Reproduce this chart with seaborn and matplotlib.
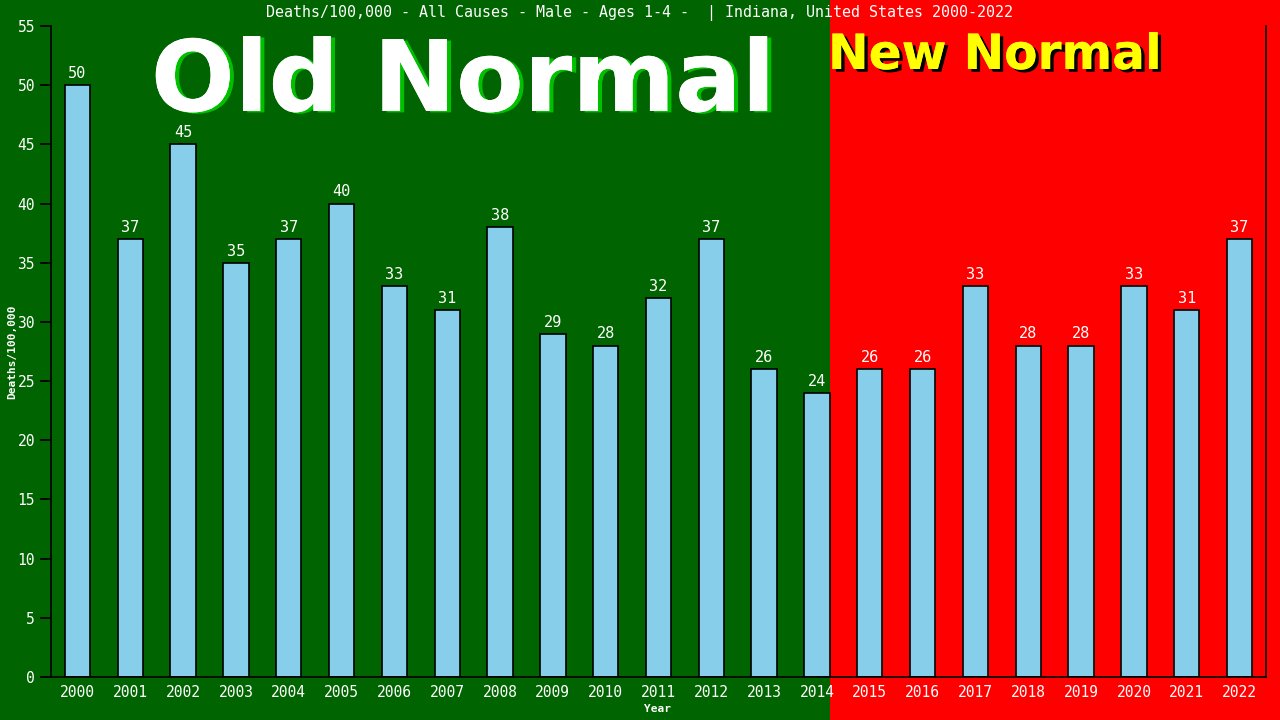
import matplotlib
matplotlib.use("Agg")
import matplotlib.pyplot as plt
import seaborn as sns
import pandas as pd
from matplotlib.patches import Rectangle
import matplotlib.patheffects as pe

years = [str(y) for y in range(2000, 2023)]
deaths = [50, 37, 45, 35, 37, 40, 33, 31, 38, 29, 28, 32, 37, 26, 24, 26, 26, 33, 28, 28, 33, 31, 37]
title = "Deaths/100,000 - All Causes - Male - Ages 1-4 -  | Indiana, United States 2000-2022"
yticks = list(range(0, 56, 5))

df = pd.DataFrame({"Year": years, "Deaths": deaths})

sns.set_theme(style="ticks")
mono = ["DejaVu Sans Mono"]
plt.rcParams["font.family"] = mono

W, H = 1280, 720
fig = plt.figure(figsize=(12.8, 7.2), dpi=100)
fig.patch.set_facecolor("#006400")
fig.patches.append(Rectangle((830 / W, 0), 1 - 830 / W, 1, transform=fig.transFigure,
                             facecolor="#FF0000", edgecolor="none", zorder=-5))

ax = fig.add_axes([51 / W, (720 - 677) / H, (1266 - 51) / W, (677 - 26) / H])
ax.set_facecolor("none")
ax.set_zorder(2)

sns.barplot(data=df, x="Year", y="Deaths", color="#87CEEB", edgecolor="black",
            linewidth=1.2, width=0.48, saturation=1, ax=ax)
ax.set_xlim(-0.5, len(years) - 0.5)
ax.set_ylim(0, 55)
ax.set_yticks(yticks)

for c in ax.containers:
    ax.bar_label(c, labels=[str(v) for v in deaths], color="white", fontsize=11,
                 padding=3, family=mono)

ax.tick_params(axis="y", colors="black", labelcolor="white", labelsize=10.5, length=8, direction="out")
ax.tick_params(axis="x", length=0, labelcolor="white", labelsize=10.5, pad=6)
for s in ["left", "bottom", "right"]:
    ax.spines[s].set_color("black")
    ax.spines[s].set_linewidth(1.2)
ax.spines["top"].set_visible(False)

ax.set_xlabel("")
ax.set_ylabel("")
fig.text(657 / W, 1 - 709 / H, "Year", color="white", fontsize=8, fontweight="bold",
         ha="center", va="center", family=mono)
fig.text(12 / W, 1 - 352 / H, "Deaths/100,000", color="white", fontsize=8, fontweight="bold",
         ha="center", va="center", rotation=90, family=mono)

fig.text(640 / W, 1 - 13 / H, title, color="white", fontsize=10.8, ha="center", va="center",
         family=mono)

# Big annotations
fig.text(463 / W, 1 - 111 / H, "Old Normal", color="white", fontsize=71, fontweight="bold",
         ha="center", va="baseline", family=["DejaVu Sans"], zorder=1,
         path_effects=[pe.withSimplePatchShadow(offset=(3, -1), shadow_rgbFace="#00C000", alpha=1),
                       pe.Normal()])
fig.text(995 / W, 1 - 69 / H, "New Normal", color="#FFFF00", fontsize=35, fontweight="bold",
         ha="center", va="baseline", family=["DejaVu Sans"], zorder=1,
         path_effects=[pe.withSimplePatchShadow(offset=(2.5, -2), shadow_rgbFace="black", alpha=1),
                       pe.Normal()])

fig.savefig("out.png", dpi=100, facecolor=fig.get_facecolor())
